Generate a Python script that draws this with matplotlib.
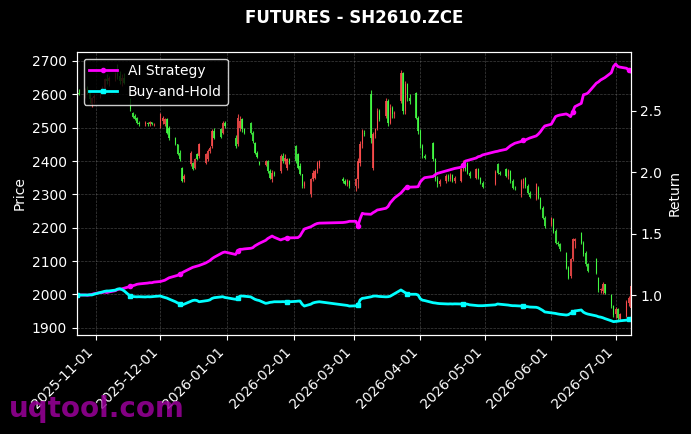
import matplotlib
matplotlib.use("Agg")
import matplotlib.pyplot as plt
import matplotlib.dates as mdates
import numpy as np
import pandas as pd

# trading calendar (exchange holidays removed)
holidays = ["2026-01-01", "2026-01-02", "2026-02-16", "2026-02-17", "2026-02-18",
            "2026-02-19", "2026-02-20", "2026-02-23", "2026-04-06", "2026-05-01",
            "2026-05-04", "2026-05-05", "2026-06-19"]
dates = pd.bdate_range("2025-10-23", "2026-07-08")
dates = dates[~dates.isin(pd.to_datetime(holidays))]

# OHLC, one entry per trading day
opens = [2600, 2604, 2600, 2612, 2605, 2570, 2588,
         2595, 2610, 2620, 2645, 2640, 2650, 2660, 2655, 2640, 2650, 2585, 2545, 2535, 2530,
         2515, 2510, 2515, 2510, 2516, 2510,
         2505, 2520, 2510, 2525, 2500, 2470, 2450, 2425, 2380, 2345, 2390, 2395, 2380, 2420,
         2415, 2395, 2405, 2430, 2445, 2490, 2495, 2485, 2515,
         2470, 2450, 2500, 2525, 2495, 2515, 2485, 2455, 2425, 2398, 2388, 2400, 2370, 2345,
         2365, 2370, 2415, 2400, 2380, 2405,
         2445, 2420, 2385, 2360, 2325, 2300, 2345, 2350, 2370, 2385, 2345, 2340, 2330, 2340,
         2325, 2345, 2395, 2450, 2485, 2600, 2380, 2480, 2500, 2550, 2535, 2580, 2515, 2560,
         2540, 2580, 2665, 2550, 2630, 2590, 2605, 2530,
         2490, 2445, 2415, 2455, 2405, 2345, 2330, 2340, 2355, 2345, 2358, 2340, 2340, 2375,
         2398, 2395, 2365, 2350, 2375, 2350, 2335,
         2330, 2390, 2365, 2375, 2355, 2370, 2340, 2320, 2300, 2330, 2350, 2325, 2305, 2285,
         2320, 2290, 2260, 2230,
         2210, 2225, 2190, 2155, 2150, 2125, 2080, 2055, 2105, 2160, 2185, 2155, 2125, 2090,
         2105, 2050, 2012, 2010, 2030, 1998, 1965,
         1940, 1955, 1925, 1935, 1975, 1960]
highs = [2612, 2615, 2620, 2625, 2610, 2592, 2600,
         2615, 2625, 2650, 2660, 2655, 2668, 2690, 2670, 2660, 2665, 2590, 2548, 2540, 2533,
         2520, 2520, 2518, 2520, 2518, 2515,
         2545, 2535, 2530, 2528, 2505, 2472, 2452, 2433, 2382, 2360, 2430, 2398, 2410, 2425,
         2455, 2425, 2435, 2445, 2495, 2500, 2500, 2520, 2520,
         2478, 2540, 2535, 2530, 2500, 2518, 2490, 2458, 2430, 2400, 2403, 2402, 2375, 2372,
         2370, 2420, 2425, 2420, 2410, 2408,
         2448, 2425, 2395, 2362, 2340, 2350, 2372, 2375, 2400, 2403, 2352, 2345, 2345, 2342,
         2350, 2410, 2460, 2495, 2492, 2613, 2487, 2500, 2560, 2555, 2590, 2585, 2570, 2565,
         2550, 2673, 2668, 2640, 2635, 2600, 2608, 2535,
         2495, 2450, 2420, 2458, 2410, 2355, 2345, 2360, 2362, 2364, 2360, 2355, 2380, 2403,
         2400, 2397, 2370, 2380, 2378, 2352, 2340,
         2373, 2394, 2370, 2380, 2375, 2372, 2345, 2325, 2345, 2350, 2352, 2330, 2310, 2334,
         2325, 2292, 2265, 2235,
         2232, 2228, 2195, 2160, 2155, 2128, 2085, 2110, 2170, 2170, 2188, 2160, 2130, 2095,
         2110, 2052, 2020, 2038, 2032, 2000, 1968,
         1962, 1958, 1945, 1983, 1995, 2034]
lows = [2596, 2598, 2590, 2600, 2575, 2562, 2575,
        2590, 2600, 2615, 2630, 2625, 2640, 2645, 2630, 2625, 2630, 2550, 2530, 2522, 2512,
        2505, 2505, 2505, 2506, 2508, 2504,
        2500, 2510, 2505, 2480, 2463, 2448, 2418, 2400, 2337, 2338, 2385, 2372, 2375, 2402,
        2410, 2392, 2400, 2425, 2440, 2465, 2468, 2482, 2500,
        2440, 2445, 2490, 2488, 2480, 2480, 2455, 2420, 2408, 2388, 2386, 2365, 2345, 2337,
        2355, 2365, 2395, 2390, 2372, 2390,
        2395, 2375, 2358, 2320, 2318, 2292, 2340, 2345, 2365, 2380, 2335, 2328, 2325, 2320,
        2310, 2320, 2385, 2440, 2475, 2455, 2373, 2470, 2493, 2520, 2530, 2505, 2510, 2530,
        2530, 2575, 2540, 2540, 2580, 2570, 2525, 2480,
        2440, 2410, 2405, 2400, 2340, 2322, 2325, 2335, 2340, 2340, 2336, 2334, 2337, 2370,
        2370, 2360, 2350, 2345, 2345, 2330, 2319,
        2328, 2360, 2358, 2352, 2345, 2335, 2315, 2312, 2292, 2320, 2320, 2300, 2289, 2283,
        2285, 2255, 2225, 2200,
        2205, 2185, 2150, 2145, 2130, 2075, 2045, 2050, 2100, 2140, 2150, 2115, 2085, 2067,
        2060, 2008, 2005, 2000, 2000, 1960, 1932,
        1930, 1922, 1920, 1932, 1965, 1950]
closes = [2604, 2600, 2612, 2605, 2585, 2588, 2595,
          2610, 2620, 2645, 2640, 2650, 2660, 2655, 2640, 2650, 2635, 2555, 2533, 2525, 2515,
          2510, 2515, 2510, 2516, 2510, 2512,
          2540, 2530, 2525, 2485, 2468, 2450, 2420, 2405, 2340, 2355, 2425, 2375, 2405, 2405,
          2450, 2420, 2430, 2440, 2490, 2470, 2472, 2515, 2505,
          2445, 2530, 2520, 2495, 2485, 2485, 2460, 2425, 2412, 2390, 2400, 2370, 2350, 2365,
          2360, 2415, 2400, 2410, 2405, 2395,
          2400, 2380, 2362, 2325, 2335, 2345, 2365, 2370, 2395, 2400, 2340, 2332, 2340, 2325,
          2345, 2400, 2450, 2490, 2480, 2470, 2480, 2495, 2550, 2525, 2580, 2515, 2560, 2540,
          2545, 2665, 2550, 2630, 2590, 2580, 2530, 2490,
          2445, 2415, 2410, 2405, 2345, 2330, 2340, 2355, 2345, 2358, 2340, 2350, 2375, 2398,
          2375, 2365, 2355, 2375, 2350, 2335, 2322,
          2368, 2365, 2362, 2355, 2370, 2340, 2320, 2318, 2340, 2345, 2325, 2305, 2292, 2330,
          2290, 2260, 2230, 2205,
          2228, 2190, 2155, 2150, 2135, 2080, 2050, 2105, 2165, 2165, 2155, 2120, 2090, 2070,
          2065, 2012, 2015, 2030, 2005, 1965, 1938,
          1955, 1928, 1940, 1978, 1990, 2025]

# cumulative returns
ai_strategy = [1.000, 1.000, 1.000, 0.998, 1.000, 1.005, 1.010,
               1.020, 1.020, 1.025, 1.020, 1.025, 1.035, 1.045, 1.048, 1.050, 1.055, 1.070,
               1.075, 1.080, 1.087, 1.090, 1.095, 1.097, 1.100, 1.100, 1.105,
               1.110, 1.115, 1.120, 1.130, 1.140, 1.155, 1.160, 1.170, 1.180, 1.190, 1.217,
               1.225, 1.230, 1.235, 1.240, 1.260, 1.270, 1.280, 1.295, 1.307, 1.335, 1.345,
               1.350,
               1.330, 1.360, 1.372, 1.372, 1.375, 1.380, 1.385, 1.400, 1.410, 1.420, 1.445,
               1.460, 1.470, 1.480, 1.470, 1.448, 1.455, 1.460, 1.467, 1.465,
               1.467, 1.467, 1.480, 1.510, 1.537, 1.555, 1.565, 1.575, 1.582, 1.585, 1.590,
               1.592, 1.595, 1.600,
               1.600, 1.565, 1.620, 1.665, 1.660, 1.657, 1.670, 1.680, 1.692, 1.695, 1.706,
               1.720, 1.750, 1.770, 1.790, 1.830, 1.850, 1.870, 1.877, 1.878, 1.880, 1.882,
               1.920, 1.940, 1.955, 1.965, 1.980, 1.990, 1.995, 2.010, 2.015, 2.020, 2.025,
               2.030, 2.040, 2.055, 2.090, 2.095, 2.100, 2.115, 2.126, 2.130, 2.140,
               2.167, 2.170, 2.175, 2.186, 2.200, 2.215, 2.225, 2.235, 2.250, 2.260, 2.262,
               2.270, 2.278, 2.295, 2.310, 2.330, 2.355, 2.376,
               2.390, 2.420, 2.452, 2.460, 2.465, 2.474, 2.465, 2.452, 2.490, 2.533, 2.560,
               2.630, 2.635, 2.643, 2.724, 2.735, 2.750, 2.760, 2.770, 2.810, 2.860,
               2.881, 2.860, 2.855, 2.846, 2.835, 2.818]
buy_and_hold = [1.000, 1.000, 1.000, 1.000, 1.002, 1.000, 1.006,
                1.020, 1.025, 1.030, 1.033, 1.033, 1.040, 1.048, 1.051, 1.045, 1.035, 0.990,
                0.988, 0.986, 0.985, 0.986, 0.984, 0.986, 0.985, 0.986, 0.988,
                0.992, 0.985, 0.980, 0.975, 0.967, 0.945, 0.935, 0.930, 0.919, 0.925, 0.948,
                0.955, 0.958, 0.955, 0.945, 0.952, 0.955, 0.960, 0.972, 0.978, 0.984, 0.986,
                0.980,
                0.965, 0.975, 0.990, 0.992, 0.990, 0.985, 0.975, 0.965, 0.959, 0.955, 0.932,
                0.935, 0.940, 0.942, 0.945, 0.945, 0.946, 0.945, 0.946, 0.945,
                0.948, 0.950, 0.951, 0.925, 0.910, 0.925, 0.935, 0.940, 0.943, 0.945, 0.920,
                0.918, 0.915, 0.910,
                0.912, 0.919, 0.960, 0.973, 0.975, 0.985, 0.990, 0.992, 0.990, 0.988, 0.985,
                0.986, 0.990, 1.000, 1.010, 1.041, 1.030, 1.020, 1.008, 1.006, 1.006, 1.000,
                0.970, 0.958, 0.955, 0.937, 0.935, 0.932, 0.930, 0.928, 0.927, 0.928, 0.927,
                0.928, 0.927, 0.928, 0.927, 0.925, 0.920, 0.915, 0.913, 0.913, 0.913,
                0.920, 0.927, 0.925, 0.920, 0.918, 0.915, 0.913, 0.913, 0.910, 0.908, 0.906,
                0.905, 0.902, 0.900, 0.895, 0.885, 0.875, 0.862,
                0.855, 0.852, 0.850, 0.846, 0.843, 0.837, 0.840, 0.851, 0.860, 0.870, 0.878,
                0.860, 0.851, 0.845, 0.830, 0.823, 0.820, 0.815, 0.808, 0.790, 0.783,
                0.785, 0.787, 0.790, 0.795, 0.802, 0.810]

up_color = "#ff4d4d"
down_color = "#44ff44"

fig = plt.figure(figsize=(6.91, 4.34), dpi=100, facecolor="black")
ax1 = fig.add_axes([0.111, 0.228, 0.8017, 0.653])
ax1.set_facecolor("black")

o = np.array(opens, dtype=float)
h = np.array(highs, dtype=float)
l = np.array(lows, dtype=float)
c = np.array(closes, dtype=float)
colors = np.where(c >= o, up_color, down_color)

# candles: wick + body
ax1.vlines(dates, l, h, colors=colors, linewidth=0.8, alpha=0.85)
ax1.bar(dates, c - o, bottom=o, width=0.6, color=colors, alpha=0.85)

ax1.set_ylim(1878, 2728)
ax1.set_xlim(dates[0], dates[-1])
ax1.set_ylabel("Price", color="white", fontsize=10)
ax1.grid(True, color="gray", linestyle="--", linewidth=0.5, alpha=0.5)
ax1.xaxis.set_major_locator(mdates.MonthLocator())
ax1.xaxis.set_major_formatter(mdates.DateFormatter("%Y-%m-%d"))
plt.setp(ax1.get_xticklabels(), rotation=45, ha="right")
ax1.tick_params(colors="white", labelsize=10)
for sp in ax1.spines.values():
    sp.set_color("white")

ax2 = ax1.twinx()
step = max(1, len(dates) // 10)
ax2.plot(dates, ai_strategy, color="#ff00ff", linewidth=2, marker="o", markersize=3,
         markevery=step, label="AI Strategy")
ax2.plot(dates, buy_and_hold, color="#00ffff", linewidth=2, marker="s", markersize=3,
         markevery=step, label="Buy-and-Hold")
ax2.set_ylim(0.674, 2.981)
ax2.set_ylabel("Return", color="white", fontsize=10)
ax2.tick_params(colors="white", labelsize=10)
for sp in ax2.spines.values():
    sp.set_color("white")

leg = ax2.legend(loc="upper left", facecolor="black", edgecolor="white",
                 framealpha=0.8, fontsize=10)
for t in leg.get_texts():
    t.set_color("white")

fig.text(0.512, 0.958, "FUTURES - SH2610.ZCE", color="white", fontsize=12,
         fontweight="bold", ha="center", va="center")
fig.text(0.013, 0.058, "uqtool.com", color="#9b009b", fontsize=20,
         fontweight="bold", ha="left", va="center", alpha=0.85)

fig.savefig("out.png", dpi=100, facecolor="black")
